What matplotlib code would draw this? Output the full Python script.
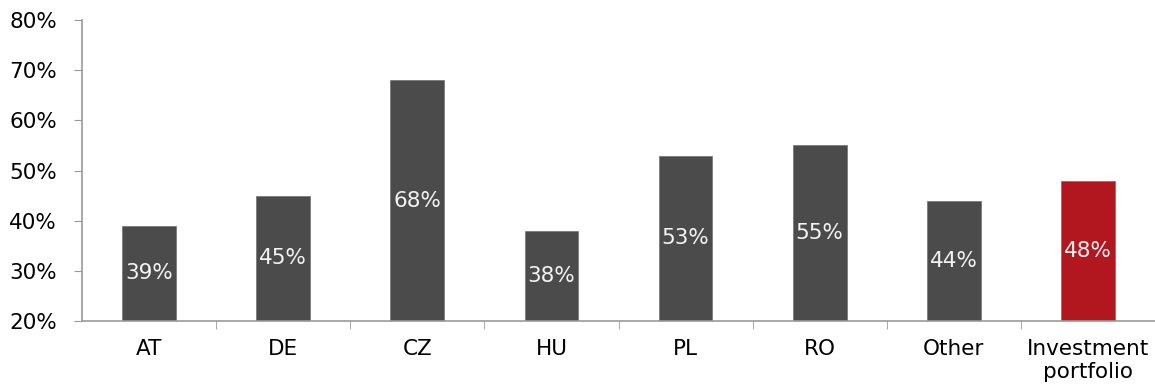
import matplotlib
matplotlib.use("Agg")
import matplotlib.pyplot as plt
from matplotlib.ticker import FixedLocator, PercentFormatter

categories = ["AT", "DE", "CZ", "HU", "PL", "RO", "Other", "Investment\nportfolio"]
values = [39, 45, 68, 38, 53, 55, 44, 48]
colors = ["#4b4b4b"] * 7 + ["#b2171f"]

plt.rcParams["font.family"] = ["DejaVu Sans"]

fig = plt.figure(figsize=(11.55, 3.85), dpi=100)
ax = fig.add_axes([0.071, 0.166, 0.929, 0.782])

base = 20
x = list(range(len(categories)))
bars = ax.bar(x, [v - base for v in values], bottom=base, width=0.4,
              color=colors, edgecolor="#7a7a7a", linewidth=0.6)

for xi, v in zip(x, values):
    ax.text(xi, (base + v) / 2, f"{v}%", ha="center", va="center",
            color="#f4f4f4", fontsize=15.5)

ax.set_ylim(20, 80)
ax.set_xlim(-0.5, len(categories) - 0.5)
ax.set_yticks(range(20, 81, 10))
ax.yaxis.set_major_formatter(PercentFormatter(decimals=0))
ax.tick_params(axis="y", labelsize=15.5, length=6, color="#999999", pad=12)

ax.set_xticks(x)
ax.set_xticklabels(categories, fontsize=15.5, linespacing=1.2)
ax.tick_params(axis="x", length=0, pad=13)
ax.xaxis.set_minor_locator(FixedLocator([i + 0.5 for i in x[:-1]]))
ax.tick_params(axis="x", which="minor", length=6, color="#999999", direction="out")

for side in ["top", "right"]:
    ax.spines[side].set_visible(False)
for side in ["left", "bottom"]:
    ax.spines[side].set_color("#999999")
    ax.spines[side].set_linewidth(1.2)

fig.savefig("out.png", dpi=100)
